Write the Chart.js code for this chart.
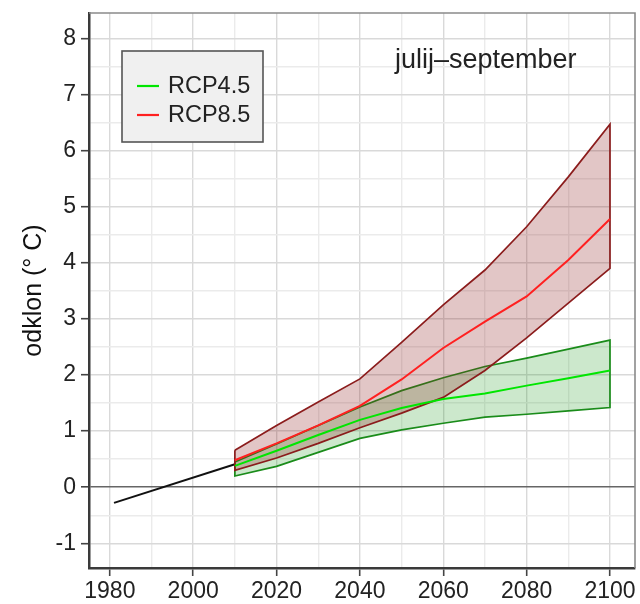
<!DOCTYPE html>
<html>
<head>
<meta charset="utf-8">
<title>odklon julij–september</title>
<script src="https://cdn.jsdelivr.net/npm/chart.js@4.4.1/dist/chart.umd.min.js"></script>
<style>
  html, body { margin: 0; padding: 0; background: #fff; }
  #wrap { width: 640px; height: 604px; }
</style>
</head>
<body>
<div id="wrap"><canvas id="chart" width="640" height="604"></canvas></div>
<script>
// Projected deviation (°C), 10-year steps
const years     = [2010, 2020, 2030, 2040, 2050, 2060, 2070, 2080, 2090, 2100];
const rcp45Mid  = [0.38, 0.65, 0.93, 1.20, 1.41, 1.57, 1.67, 1.81, 1.94, 2.08];
const rcp45Low  = [0.20, 0.37, 0.62, 0.87, 1.02, 1.14, 1.25, 1.30, 1.36, 1.42];
const rcp45High = [0.45, 0.77, 1.10, 1.43, 1.72, 1.95, 2.15, 2.30, 2.46, 2.62];
const rcp85Mid  = [0.48, 0.78, 1.10, 1.45, 1.92, 2.48, 2.95, 3.40, 4.05, 4.78];
const rcp85Low  = [0.30, 0.52, 0.78, 1.06, 1.32, 1.60, 2.08, 2.66, 3.28, 3.90];
const rcp85High = [0.66, 1.10, 1.52, 1.93, 2.58, 3.25, 3.87, 4.64, 5.53, 6.47];

// Observed trend
const histYears  = [1981, 2010];
const histValues = [-0.28, 0.41];

// Axis ticks and grid
const xGridYears  = [1980, 1990, 2000, 2010, 2020, 2030, 2040, 2050, 2060, 2070, 2080, 2090, 2100];
const xTickLabels = [1980, 2000, 2020, 2040, 2060, 2080, 2100];
const yGridValues = [-1, -0.5, 0, 0.5, 1, 1.5, 2, 2.5, 3, 3.5, 4, 4.5, 5, 5.5, 6, 6.5, 7, 7.5, 8];
const yTickLabels = [-1, 0, 1, 2, 3, 4, 5, 6, 7, 8];

const legendItems = [
  { label: 'RCP4.5', color: '#00e600' },
  { label: 'RCP8.5', color: '#ff2020' }
];
const panelLabel = 'julij–september';

const FONT = "'Liberation Sans', Arial, sans-serif";

function line(xs, ys) {
  return xs.map((x, i) => ({ x: x, y: ys[i] }));
}

// closed outline: upper edge forward, lower edge back
function band(xs, lo, hi) {
  const pts = line(xs, hi);
  for (let i = xs.length - 1; i >= 0; i--) pts.push({ x: xs[i], y: lo[i] });
  pts.push({ x: xs[0], y: hi[0] });
  return pts;
}

function lineSet(data, color, width) {
  return {
    data: data,
    borderColor: color,
    borderWidth: width,
    pointRadius: 0,
    fill: false,
    tension: 0
  };
}

function bandSet(data, stroke, fillColor) {
  return {
    data: data,
    borderColor: stroke,
    borderWidth: 1.7,
    backgroundColor: fillColor,
    pointRadius: 0,
    fill: 'shape',
    tension: 0
  };
}

// frame, legend box and season label
const overlayPlugin = {
  id: 'overlay',
  afterDraw(chart) {
    const { ctx, chartArea } = chart;
    ctx.save();

    ctx.strokeStyle = '#8a8a8a';
    ctx.lineWidth = 1.6;
    ctx.beginPath();
    ctx.moveTo(chartArea.left, chartArea.top);
    ctx.lineTo(chartArea.right, chartArea.top);
    ctx.lineTo(chartArea.right, chartArea.bottom);
    ctx.stroke();

    const bx = chartArea.left + 33, by = chartArea.top + 38;
    ctx.fillStyle = '#f0f0f0';
    ctx.fillRect(bx, by, 141, 91);
    ctx.strokeStyle = '#555';
    ctx.lineWidth = 1.6;
    ctx.strokeRect(bx, by, 141, 91);

    ctx.font = '23.5px ' + FONT;
    ctx.textBaseline = 'middle';
    legendItems.forEach((item, i) => {
      const y = by + 35 + i * 29;
      ctx.strokeStyle = item.color;
      ctx.lineWidth = 2.2;
      ctx.beginPath();
      ctx.moveTo(bx + 15, y);
      ctx.lineTo(bx + 37, y);
      ctx.stroke();
      ctx.fillStyle = '#222';
      ctx.fillText(item.label, bx + 46, y + 1);
    });

    ctx.font = '27px ' + FONT;
    ctx.textBaseline = 'alphabetic';
    ctx.fillStyle = '#222';
    ctx.fillText(panelLabel, 395, 68);
    ctx.restore();
  }
};

const chart = new Chart(document.getElementById('chart'), {
  type: 'line',
  data: {
    datasets: [
      lineSet(line(years, rcp85Mid), '#ff2020', 2),
      lineSet(line(years, rcp45Mid), '#00e600', 2),
      bandSet(band(years, rcp85Low, rcp85High), '#8b1c1c', 'rgba(139, 26, 26, 0.25)'),
      bandSet(band(years, rcp45Low, rcp45High), '#1a8c1a', 'rgba(0, 139, 0, 0.2)'),
      lineSet(line(histYears, histValues), '#111', 2)
    ]
  },
  options: {
    responsive: false,
    animation: false,
    events: [],
    layout: { padding: { top: 13, right: 5, left: 0, bottom: 0 } },
    plugins: {
      legend: { display: false },
      tooltip: { enabled: false }
    },
    scales: {
      x: {
        type: 'linear',
        min: 1975,
        max: 2106,
        afterBuildTicks: (scale) => { scale.ticks = xGridYears.map(v => ({ value: v })); },
        afterFit: (scale) => { scale.height = 36; },
        ticks: {
          autoSkip: false,
          maxRotation: 0,
          padding: 2,
          color: '#222',
          font: { family: FONT, size: 23 },
          callback: (v) => xTickLabels.includes(v) ? String(v) : ''
        },
        grid: {
          color: (c) => xTickLabels.includes(c.tick.value) ? '#d9d9d9' : '#ebebeb',
          lineWidth: 1.4,
          tickLength: 8,
          tickColor: (c) => xTickLabels.includes(c.tick.value) ? '#444' : 'rgba(0,0,0,0)',
          tickWidth: 1.6
        },
        border: { color: '#3a3a3a', width: 2.5 }
      },
      y: {
        type: 'linear',
        min: -1.44,
        max: 8.45,
        afterBuildTicks: (scale) => { scale.ticks = yGridValues.map(v => ({ value: v })); },
        afterFit: (scale) => {
          scale.width = 89;
          // no extra room for the end labels, they sit inside the range
          scale.paddingTop = 0;
          scale.paddingBottom = 0;
        },
        ticks: {
          autoSkip: false,
          padding: 5,
          color: '#222',
          font: { family: FONT, size: 23 },
          callback: (v) => yTickLabels.includes(v) ? String(v) : ''
        },
        title: {
          display: true,
          text: 'odklon (° C)',
          color: '#111',
          font: { family: FONT, size: 25 },
          padding: { top: 19, bottom: 0 }
        },
        grid: {
          color: (c) => c.tick.value === 0 ? '#666' : (yTickLabels.includes(c.tick.value) ? '#d9d9d9' : '#ebebeb'),
          lineWidth: (c) => c.tick.value === 0 ? 1.6 : 1.4,
          tickLength: 8,
          tickColor: (c) => yTickLabels.includes(c.tick.value) ? '#444' : 'rgba(0,0,0,0)',
          tickWidth: 1.6
        },
        border: { color: '#3a3a3a', width: 2.5 }
      }
    }
  },
  plugins: [overlayPlugin]
});
</script>
</body>
</html>
